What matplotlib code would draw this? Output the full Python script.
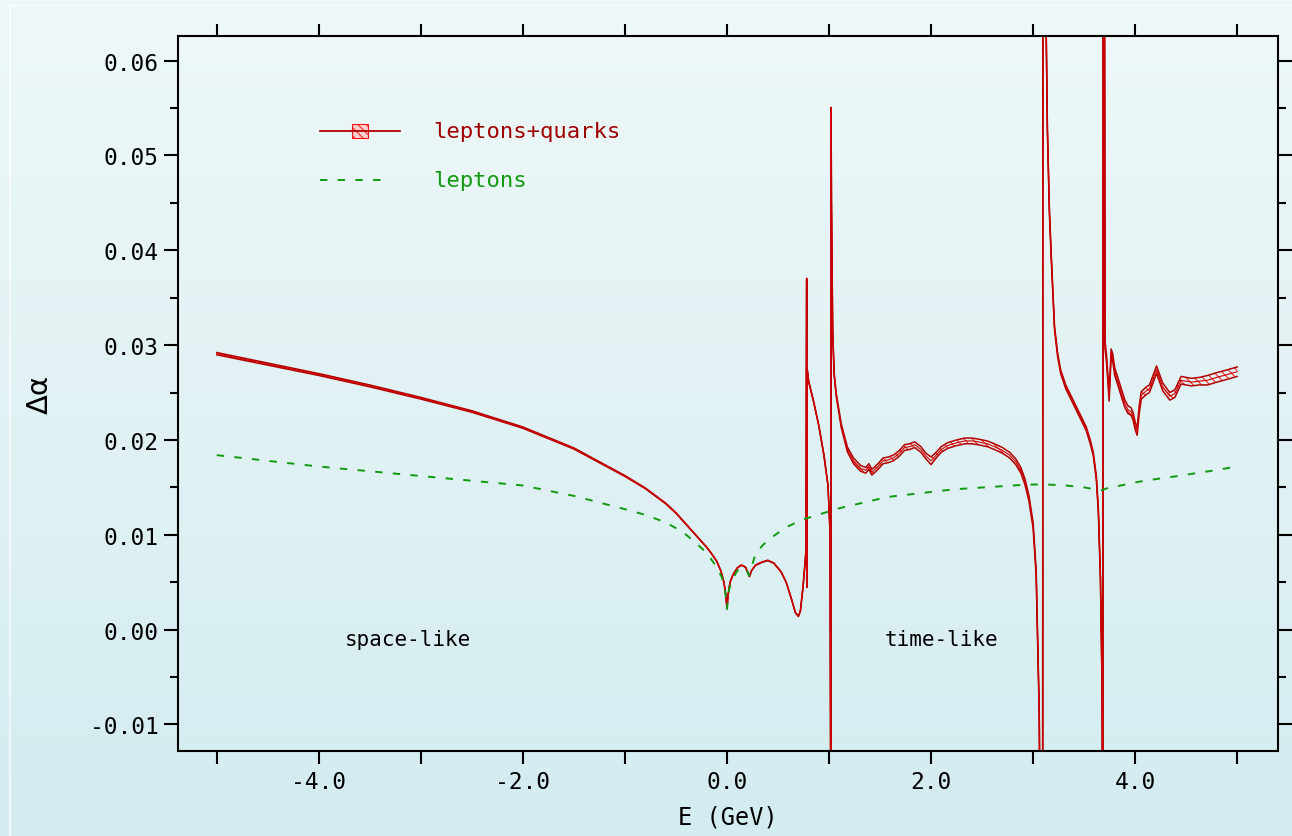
import numpy as np
import matplotlib
matplotlib.use("Agg")
import matplotlib.pyplot as plt
from matplotlib.ticker import FixedLocator, FuncFormatter, MultipleLocator, FormatStrFormatter
from matplotlib.patches import Rectangle
from matplotlib.lines import Line2D

# ---------------- data ----------------
# leptons + quarks (central value and error), 10 points per row
x_lq = [-5.0, -4.5, -4.0, -3.5, -3.0, -2.5, -2.0, -1.5, -1.0, -0.8,
        -0.6, -0.5, -0.4, -0.3, -0.2, -0.15, -0.1, -0.06, -0.03, -0.01,
        0.0, 0.01, 0.03, 0.06, 0.1, 0.14, 0.18, 0.21, 0.22, 0.24,
        0.28, 0.34, 0.40, 0.46, 0.53, 0.58, 0.63, 0.67, 0.70, 0.72,
        0.745, 0.765, 0.775, 0.778, 0.781, 0.7835, 0.786, 0.80, 0.85, 0.90,
        0.95, 0.99, 1.01, 1.016, 1.019, 1.020, 1.024, 1.036, 1.05, 1.07,
        1.12, 1.18, 1.24, 1.31, 1.36, 1.39, 1.42, 1.48, 1.53, 1.58,
        1.63, 1.68, 1.74, 1.79, 1.84, 1.90, 1.95, 2.0, 2.05, 2.1,
        2.16, 2.25, 2.33, 2.40, 2.46, 2.55, 2.62, 2.70, 2.77, 2.83,
        2.88, 2.92, 2.96, 3.0, 3.03, 3.046, 3.06, 3.065, 3.094, 3.096,
        3.125, 3.14, 3.16, 3.18, 3.21, 3.24, 3.27, 3.32, 3.37, 3.42,
        3.47, 3.52, 3.56, 3.59, 3.62, 3.64, 3.66, 3.675, 3.68, 3.684,
        3.686, 3.70, 3.705, 3.72, 3.745, 3.765, 3.78, 3.80, 3.83, 3.87,
        3.90, 3.93, 3.96, 3.98, 4.0, 4.02, 4.04, 4.06, 4.11, 4.14,
        4.21, 4.27, 4.34, 4.39, 4.45, 4.55, 4.63, 4.71, 4.80, 4.87,
        5.0]
y_lq = [0.0291, 0.0280, 0.0269, 0.0257, 0.0244, 0.0230, 0.0213, 0.0191, 0.0162, 0.0149,
        0.0133, 0.0123, 0.0111, 0.0099, 0.0087, 0.0080, 0.0072, 0.0062, 0.0050, 0.0035,
        0.0022, 0.0036, 0.0050, 0.0058, 0.0065, 0.0068, 0.0066, 0.0059, 0.0056, 0.0062,
        0.0068, 0.0071, 0.0073, 0.0070, 0.0061, 0.0050, 0.0033, 0.0018, 0.0014, 0.0020,
        0.0045, 0.0070, 0.0085, 0.0260, 0.0370, 0.0045, 0.0275, 0.0262, 0.0240, 0.0215,
        0.0184, 0.0152, 0.0103, -0.016, -0.016, 0.0550, 0.0450, 0.0314, 0.0270, 0.0248,
        0.0215, 0.0190, 0.0178, 0.0170, 0.0168, 0.0172, 0.0166, 0.0172, 0.0178, 0.0179,
        0.0181, 0.0185, 0.0192, 0.0193, 0.0195, 0.0190, 0.0183, 0.0178, 0.0184, 0.0190,
        0.0194, 0.0197, 0.0199, 0.0199, 0.0198, 0.0196, 0.0193, 0.0189, 0.0184, 0.0177,
        0.0168, 0.0156, 0.0138, 0.0110, 0.0060, -0.0017, -0.0087, -0.016, -0.016, 0.066,
        0.066, 0.0528, 0.0440, 0.0388, 0.0318, 0.0290, 0.0272, 0.0256, 0.0245, 0.0234,
        0.0223, 0.0212, 0.0198, 0.0185, 0.0160, 0.0124, 0.0054, -0.0052, -0.016, -0.016,
        0.066, 0.066, 0.0300, 0.0285, 0.0245, 0.0292, 0.0287, 0.0272, 0.0262, 0.0248,
        0.0238, 0.0232, 0.0230, 0.0225, 0.0215, 0.0209, 0.0232, 0.0247, 0.0252, 0.0254,
        0.0274, 0.0256, 0.0246, 0.0249, 0.0263, 0.0261, 0.0262, 0.0263, 0.0266, 0.0268,
        0.0272]
err_lq = [0.00012, 0.00011, 0.0001, 0.0001, 0.00009, 0.00008, 0.00007, 0.00006, 0.00005, 0.00004,
          0.00004, 0.00003, 0.00003, 0.00002, 0.00002, 0.00002, 0.00001, 0.00001, 0.00001, 0.0,
          0.0, 0.0, 0.00001, 0.00001, 0.00001, 0.00001, 0.00001, 0.00001, 0.00001, 0.00001,
          0.00002, 0.00002, 0.00002, 0.00002, 0.00002, 0.00002, 0.00002, 0.00002, 0.00002, 0.00002,
          0.00003, 0.00003, 0.00003, 0.00005, 0.00005, 0.00005, 0.00005, 0.00005, 0.00005, 0.00005,
          0.00005, 0.00005, 0.00005, 0.00005, 0.00005, 0.00008, 0.00008, 0.0001, 0.00012, 0.00015,
          0.0002, 0.00025, 0.0003, 0.0003, 0.0003, 0.0003, 0.0003, 0.0003, 0.0003, 0.0003,
          0.0003, 0.0003, 0.0003, 0.0003, 0.0003, 0.0003, 0.0003, 0.0004, 0.0003, 0.0003,
          0.0003, 0.0003, 0.0003, 0.0003, 0.0003, 0.0003, 0.0003, 0.0003, 0.0003, 0.0003,
          0.0003, 0.0003, 0.0003, 0.0003, 0.0003, 0.0003, 0.0003, 0.0003, 0.0003, 0.0003,
          0.0002, 0.0002, 0.0002, 0.0002, 0.0002, 0.0002, 0.0002, 0.0002, 0.0002, 0.0002,
          0.0002, 0.0002, 0.0002, 0.0002, 0.0002, 0.0002, 0.0002, 0.0002, 0.0002, 0.0002,
          0.0002, 0.0003, 0.0004, 0.0004, 0.0004, 0.0004, 0.0004, 0.0004, 0.0004, 0.0004,
          0.0004, 0.0004, 0.0004, 0.0004, 0.0004, 0.0004, 0.0004, 0.0004, 0.0004, 0.0004,
          0.0004, 0.0004, 0.0004, 0.0004, 0.0004, 0.0004, 0.0004, 0.0005, 0.0005, 0.0005,
          0.0005]

# leptons only
x_lep = [-5.0, -4.5, -4.0, -3.5, -3.0, -2.5, -2.0, -1.5, -1.0, -0.8, -0.6, -0.5, -0.4, -0.3,
         -0.2, -0.1, -0.05, -0.02, 0.0, 0.02, 0.05, 0.1, 0.15, 0.2, 0.215, 0.23, 0.28, 0.35,
         0.41, 0.5, 0.58, 0.74, 0.92, 1.1, 1.58, 2.23, 2.95, 3.14, 3.32, 3.5, 3.6, 3.67, 3.75,
         3.86, 4.04, 4.22, 4.42, 4.6, 4.78, 5.0]
y_lep = [0.0184, 0.0178, 0.0172, 0.0167, 0.0162, 0.0157, 0.0152, 0.0141, 0.0127, 0.0121,
         0.0113, 0.0107, 0.0100, 0.0091, 0.0081, 0.0066, 0.0055, 0.0043, 0.0022, 0.0042,
         0.0052, 0.0062, 0.0066, 0.0061, 0.0057, 0.0062, 0.0080, 0.0089, 0.0095, 0.0102,
         0.0108, 0.0116, 0.0122, 0.0128, 0.0140, 0.0148, 0.0153, 0.0153, 0.0152, 0.0150,
         0.0148, 0.0147, 0.0150, 0.0152, 0.0156, 0.0159, 0.0162, 0.0165, 0.0168, 0.0172]

x_ticks = [-5, -4, -3, -2, -1, 0, 1, 2, 3, 4, 5]
x_labeled = [-4, -2, 0, 2, 4]

# ---------------- figure ----------------
W, H = 1292, 837
fig = plt.figure(figsize=(W / 100, H / 100), dpi=100)
plt.rcParams['hatch.linewidth'] = 0.7

# background gradient
bg = fig.add_axes([0, 0, 1, 1], zorder=-10)
grad = np.linspace(0, 1, 256)[:, None]
c_top = np.array([0xEF, 0xF8, 0xF8]) / 255
c_bot = np.array([0xD3, 0xEC, 0xF0]) / 255
img = c_top[None, None, :] * (1 - grad[:, :, None]) + c_bot[None, None, :] * grad[:, :, None]
bg.imshow(img, aspect='auto', extent=[0, 1, 0, 1], origin='upper')
bg.plot([10 / W, 10 / W], [0, 1 - 6 / H], color='white', lw=1.2, alpha=0.8)
bg.plot([10 / W, 1], [1 - 6 / H, 1 - 6 / H], color='white', lw=1.2, alpha=0.8)
bg.set_xlim(0, 1)
bg.set_ylim(0, 1)
bg.axis('off')

ax = fig.add_axes([178 / W, 1 - 752 / H, 1100 / W, 715 / H])
ax.patch.set_alpha(0)

x_lq_a = np.array(x_lq)
y_lq_a = np.array(y_lq)
e_a = np.array(err_lq)
hi = y_lq_a + e_a
lo = y_lq_a - e_a

dark_red = '#B00000'
red = '#FF1010'
green = '#109A10'

ax.fill_between(x_lq_a, lo, hi, facecolor='none', edgecolor=red, hatch='\\\\\\\\', lw=0)
ax.plot(x_lq_a, hi, color=dark_red, lw=1.1)
ax.plot(x_lq_a, lo, color=dark_red, lw=1.1)
ax.plot(x_lq_a, y_lq_a, color='#D00000', lw=0.8)

ax.plot(x_lep, y_lep, color=green, lw=1.4, dashes=(3.8, 5.3))

ax.set_xlim(-5.38, 5.40)
ax.set_ylim(-0.0128, 0.0626)

mono = 'DejaVu Sans Mono'
ax.xaxis.set_major_locator(FixedLocator(x_ticks))
ax.xaxis.set_major_formatter(FuncFormatter(
    lambda v, p: ('%.1f' % v) if any(abs(v - t) < 1e-9 for t in x_labeled) else ''))
ax.yaxis.set_major_locator(MultipleLocator(0.01))
ax.yaxis.set_minor_locator(MultipleLocator(0.005))
ax.yaxis.set_major_formatter(FormatStrFormatter('%.2f'))

ax.tick_params(axis='x', which='major', direction='out', length=9, width=1.5,
               top=True, bottom=True, pad=5, labelsize=16.5)
ax.tick_params(axis='y', which='major', direction='out', length=10, width=1.5,
               left=True, right=True, pad=4, labelsize=16.5)
ax.tick_params(axis='y', which='minor', direction='out', length=6, width=1.5,
               left=True, right=True)
for lab in ax.get_xticklabels() + ax.get_yticklabels():
    lab.set_fontfamily(mono)
for s in ax.spines.values():
    s.set_linewidth(1.5)

ax.set_xlabel('E (GeV)', fontsize=17, family=mono, labelpad=8)
ax.set_ylabel('Δα', fontsize=21, family='DejaVu Sans', labelpad=26)

ax.text(-3.13, -0.001, 'space-like', fontsize=15, family=mono, ha='center', va='center')
ax.text(2.10, -0.001, 'time-like', fontsize=15, family=mono, ha='center', va='center')

# legend (manual, placed in figure fraction coordinates)
def fx(px):
    return px / W

def fy(py):
    return 1 - py / H

fig.add_artist(Line2D([fx(320), fx(400)], [fy(132), fy(132)], color=dark_red, lw=1.3))
fig.add_artist(Rectangle((fx(352), fy(139)), 16 / W, 14 / H, facecolor='#FFD0D0',
                         edgecolor=red, hatch='\\\\\\\\', lw=0.8))
fig.text(fx(433), fy(132), 'leptons+quarks', color='#A00000', fontsize=16, family=mono,
         va='center', ha='left')
fig.add_artist(Line2D([fx(320), fx(386)], [fy(181), fy(181)], color=green, lw=1.4,
                      dashes=(3.8, 5.3)))
fig.text(fx(433), fy(181), 'leptons', color=green, fontsize=16, family=mono,
         va='center', ha='left')

fig.savefig('out.png', dpi=100)
